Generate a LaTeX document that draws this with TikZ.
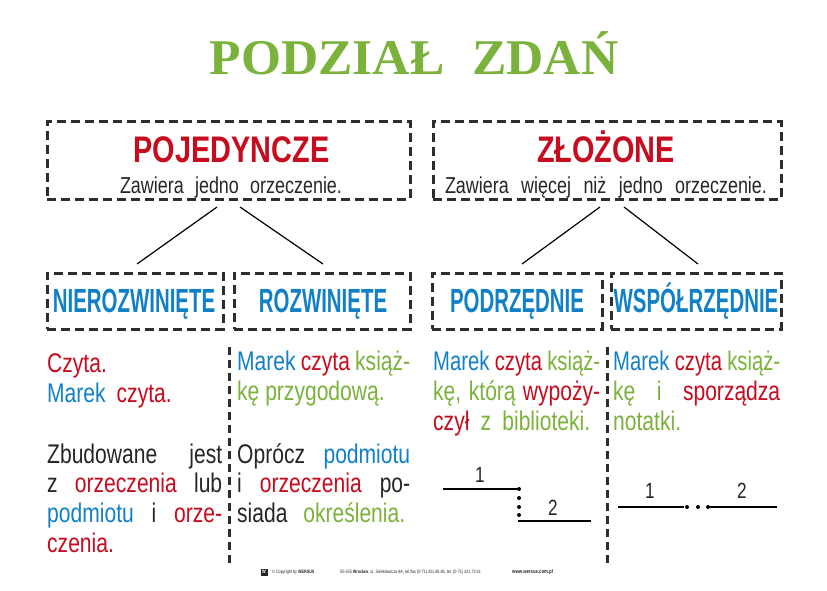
\documentclass[tikz,border=0pt]{standalone}
\usepackage{fontspec}
\setmainfont{Liberation Sans}
\newfontfamily\bodyf[FakeStretch=0.78]{Liberation Sans}
\newfontfamily\narf[FakeStretch=0.75]{Liberation Sans}
\newfontfamily\redf[FakeStretch=0.78]{Liberation Sans}
\newfontfamily\bluef[FakeStretch=0.61]{Liberation Sans}
\newfontfamily\titlef[FakeStretch=1.03]{Liberation Serif}
\definecolor{myred}{RGB}{198,12,30}
\definecolor{myblue}{RGB}{18,128,198}
\definecolor{mygreen}{RGB}{122,178,60}
\definecolor{mydark}{RGB}{38,38,38}
\definecolor{boxgray}{RGB}{45,45,45}
\newcommand{\myjust}[2]{\makebox[#1][s]{#2}}
\tikzset{
  dbox/.style={draw=boxgray, line width=3pt, dash pattern=on 9pt off 5pt, rectangle, inner sep=0pt},
  sepline/.style={draw=boxgray, line width=3pt, dash pattern=on 8pt off 5pt},
  link/.style={draw=black, line width=1.2pt},
  dline/.style={draw=black, line width=1.8pt},
  body/.style={anchor=base west, inner sep=0pt, font=\bodyf\fontsize{27}{27}\selectfont},
  narbody/.style={anchor=base west, inner sep=0pt, font=\narf\fontsize{27}{27}\selectfont},
  redhead/.style={anchor=base, inner sep=0pt, text=myred, font=\redf\bfseries\fontsize{37}{37}\selectfont},
  bluehead/.style={anchor=base, inner sep=0pt, text=myblue, font=\bluef\bfseries\fontsize{33.5}{33.5}\selectfont},
  sub/.style={anchor=base, inner sep=0pt, text=mydark, font=\bodyf\fontsize{23}{23}\selectfont},
  num/.style={inner sep=0pt, text=mydark, font=\bodyf\fontsize{22}{22}\selectfont},
  foot/.style={anchor=west, inner sep=0pt, text=mydark, font=\bodyf\fontsize{4.8}{5}\selectfont},
}
\begin{document}
\begin{tikzpicture}[x=1pt,y=-1pt]
\useasboundingbox (0,0) rectangle (827,591);
\fill[white] (0,0) rectangle (827,591);

% title
\node[anchor=base, inner sep=0pt, text=mygreen, font=\titlef\bfseries\fontsize{50}{50}\selectfont] (title) at (414,75) {PODZIAŁ\hspace{28pt}ZDAŃ};

% top boxes
\node[dbox, minimum width=363pt, minimum height=77pt] (bpoj) at (228.5,160.5) {};
\node[dbox, minimum width=348pt, minimum height=77pt] (bzl) at (607,160.5) {};
\node[redhead] (tpoj) at (231.5,162) {POJEDYNCZE};
\node[redhead] (tzl) at (606,162) {ZŁOŻONE};
\node[sub] (spoj) at (231,193) {\myjust{222pt}{Zawiera jedno orzeczenie.}};
\node[sub] (szl) at (606,193) {\myjust{322pt}{Zawiera więcej niż jedno orzeczenie.}};

% second level boxes
\node[dbox, minimum width=176pt, minimum height=56pt] (bnier) at (135,301) {};
\node[dbox, minimum width=176pt, minimum height=56pt] (broz) at (322,301) {};
\node[dbox, minimum width=170pt, minimum height=56pt] (bpodrz) at (517,301) {};
\node[dbox, minimum width=170pt, minimum height=56pt] (bwsp) at (696,301) {};
\node[bluehead] (tnier) at (134,312) {NIEROZWINIĘTE};
\node[bluehead] (troz) at (323,312) {ROZWINIĘTE};
\node[bluehead] (tpodrz) at (517,312) {PODRZĘDNIE};
\node[bluehead] (twsp) at (696,312) {WSPÓŁRZĘDNIE};

% connectors
\coordinate (pa) at (217,207);
\coordinate (pb) at (240,207);
\coordinate (za) at (600,207);
\coordinate (zb) at (624,207);
\coordinate (na) at (137,264);
\coordinate (ra) at (323,264);
\coordinate (pda) at (522,264);
\coordinate (wa) at (698,264);
\draw[link] (pa) -- (na);
\draw[link] (pb) -- (ra);
\draw[link] (za) -- (pda);
\draw[link] (zb) -- (wa);

% separators
\coordinate (s1a) at (229,347);
\coordinate (s1b) at (229,566);
\coordinate (s2a) at (607,347);
\coordinate (s2b) at (607,563);
\draw[sepline] (s1a) -- (s1b);
\draw[sepline] (s2a) -- (s2b);

% column 1
\node[body, text=myred] (c1a) at (47,372) {Czyta.};
\node[body] (c1b) at (47,402) {\textcolor{myblue}{Marek}\hspace{11pt}\textcolor{myred}{czyta.}};
\node[body, text=mydark] (c1c) at (47,463) {\myjust{175pt}{Zbudowane jest}};
\node[body] (c1d) at (47,492) {\myjust{175pt}{\textcolor{mydark}{z} \textcolor{myred}{orzeczenia} \textcolor{mydark}{lub}}};
\node[body] (c1e) at (47,522) {\myjust{175pt}{\textcolor{myblue}{podmiotu} \textcolor{mydark}{i} \textcolor{myred}{orze-}}};
\node[body, text=myred] (c1f) at (47,552) {czenia.};

% column 2
\node[body] (c2a) at (237,370) {\myjust{173pt}{\textcolor{myblue}{Marek} \textcolor{myred}{czyta} \textcolor{mygreen}{książ-}}};
\node[body, text=mygreen] (c2b) at (237,400) {kę przygodową.};
\node[body] (c2c) at (237,463) {\myjust{173pt}{\textcolor{mydark}{Oprócz} \textcolor{myblue}{podmiotu}}};
\node[body] (c2d) at (237,492) {\myjust{173pt}{\textcolor{mydark}{i} \textcolor{myred}{orzeczenia} \textcolor{mydark}{po-}}};
\node[body] (c2e) at (237,522) {\myjust{168pt}{\textcolor{mydark}{siada} \textcolor{mygreen}{określenia.}}};

% column 3
\node[narbody] (c3a) at (433,370) {\myjust{167pt}{\textcolor{myblue}{Marek} \textcolor{myred}{czyta} \textcolor{mygreen}{książ-}}};
\node[body] (c3b) at (433,400) {\myjust{167pt}{\textcolor{mygreen}{kę, którą} \textcolor{myred}{wypoży-}}};
\node[body] (c3c) at (433,430) {\myjust{157pt}{\textcolor{myred}{czył} \textcolor{mygreen}{z biblioteki.}}};

% column 4
\node[narbody] (c4a) at (613,370) {\myjust{167pt}{\textcolor{myblue}{Marek} \textcolor{myred}{czyta} \textcolor{mygreen}{książ-}}};
\node[body] (c4b) at (613,400) {\myjust{167pt}{\textcolor{mygreen}{kę} \textcolor{mygreen}{i} \textcolor{myred}{sporządza}}};
\node[body, text=mygreen] (c4c) at (613,430) {notatki.};

% diagram: podrzędnie
\coordinate (a1) at (443,489);
\coordinate (a2) at (519,489);
\coordinate (a3) at (518,521);
\coordinate (a4) at (591,521);
\draw[dline] (a1) -- (a2);
\draw[dline] (a3) -- (a4);
\foreach \yy in {489,498,507,515} \fill[black] (519,\yy) circle (2pt);
\node[num] (n1) at (480,475) {1};
\node[num] (n2) at (553,508) {2};

% diagram: współrzędnie
\coordinate (b1) at (618,507);
\coordinate (b2) at (684,507);
\coordinate (b3) at (709,507);
\coordinate (b4) at (777,507);
\draw[dline] (b1) -- (b2);
\draw[dline] (b3) -- (b4);
\foreach \xx in {687,698,708} \fill[black] (\xx,507) circle (2pt);
\node[num] (m1) at (650,491) {1};
\node[num] (m2) at (742,491) {2};

% footer
\node[fill=mydark, minimum size=7pt, inner sep=0pt, text=white, font=\bodyf\bfseries\fontsize{5}{5}\selectfont] (logo) at (264,572) {W};
\node[foot] (f1) at (272,572) {© Copyright by \textbf{WERSUS}};
\node[foot] (f2) at (340,572) {50-335 \textbf{Wrocław}, ul. Sienkiewicza 8A, tel./fax (0-71) 321 68 86, tel. (0-71) 321 73 41};
\node[foot, font=\bodyf\bfseries\fontsize{5.5}{6}\selectfont] (f3) at (512,572) {www.wersus.com.pl};
\end{tikzpicture}
\end{document}
